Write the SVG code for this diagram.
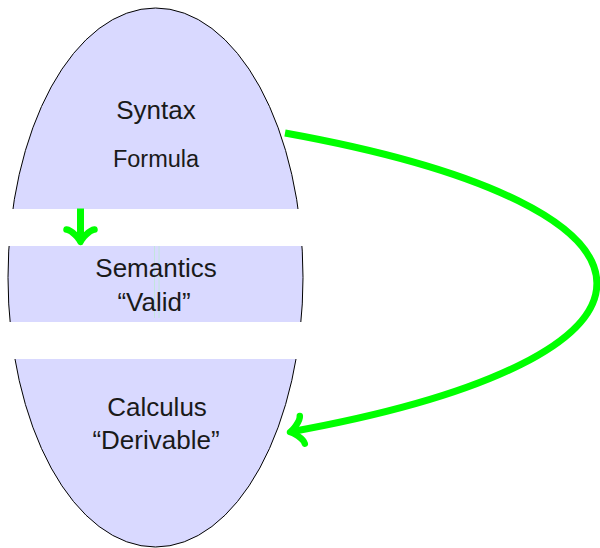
<svg xmlns="http://www.w3.org/2000/svg" width="600" height="548" viewBox="0 0 600 548">
  <style>
    .lbl { font-family: "Liberation Sans", Arial, sans-serif; fill: #1a1a1a; text-anchor: middle; }
    .big { font-size: 26px; }
    .small { font-size: 23.5px; }
    .band { fill: #ffffff; }
    .conn { fill: none; stroke: #00ff00; stroke-width: 7; }
    .guide { stroke: #c2e6dc; stroke-width: 1; }
  </style>
  <defs>
    <marker id="to" markerUnits="userSpaceOnUse" orient="auto" refX="0" refY="0" markerWidth="40" markerHeight="40" viewBox="-20 -20 40 40" overflow="visible">
      <path d="M -12.5,-14 C -11.9,-8.5 -2.55,-0.85 0,0 C -2.55,0.85 -11.9,8.5 -12.5,14" fill="none" stroke="#00ff00" stroke-width="6.5" stroke-linecap="round" stroke-linejoin="round"/>
    </marker>
  </defs>

  <g id="background">
    <ellipse cx="155.5" cy="277.5" rx="147.5" ry="269.5" fill="#d9d9ff" stroke="#000000" stroke-width="1"/>
    <rect class="band" x="0" y="209" width="320" height="37"/>
    <rect class="band" x="0" y="322" width="320" height="37"/>
  </g>

  <g id="syntax">
    <text class="lbl big" x="156" y="119">Syntax</text>
    <text class="lbl small" x="156" y="167">Formula</text>
  </g>

  <g id="semantics">
    <line class="guide" x1="154.5" y1="246" x2="154.5" y2="318"/>
    <line class="guide" x1="159" y1="246" x2="159" y2="318"/>
    <text class="lbl big" x="156" y="277">Semantics</text>
    <text class="lbl big" x="154" y="311">“Valid”</text>
  </g>

  <g id="calculus">
    <text class="lbl big" x="157" y="416">Calculus</text>
    <text class="lbl big" x="156" y="449">“Derivable”</text>
  </g>

  <g id="connectors">
    <path class="conn" d="M 80.5,208.5 L 80.5,242" marker-end="url(#to)"/>
    <path class="conn" d="M 285,133 C 700,208 700,358 290,432" marker-end="url(#to)"/>
  </g>
</svg>
